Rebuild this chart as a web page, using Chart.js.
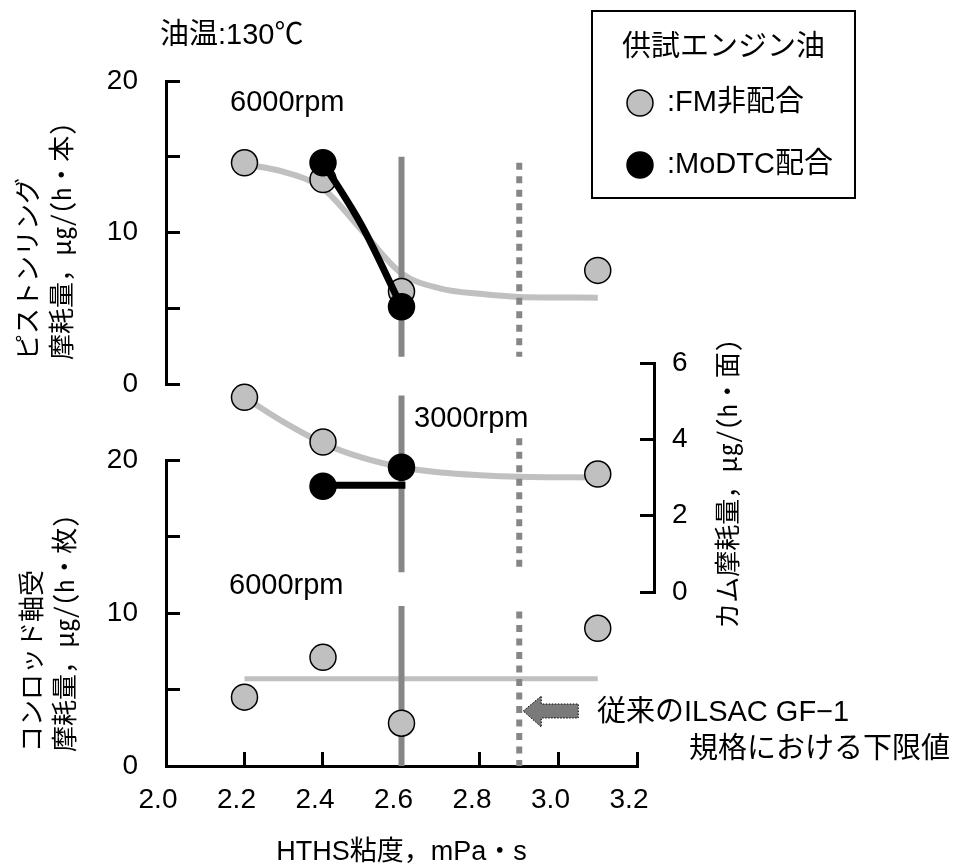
<!DOCTYPE html>
<html>
<head>
<meta charset="utf-8">
<title>HTHS粘度と摩耗量</title>
<script src="https://cdn.jsdelivr.net/npm/chart.js@4/dist/chart.umd.min.js"></script>
<style>
  html, body { margin: 0; padding: 0; background: #fff; }
  canvas { display: block; }
</style>
</head>
<body>
<canvas id="wear" width="968" height="866"></canvas>
<script>
// ---- axis ticks ----
const hthsTicks = [2.0, 2.2, 2.4, 2.6, 2.8, 3.0, 3.2];
const wearTicks = [0, 5, 10, 15, 20];
const camTicks = [0, 2, 4, 6];

// ---- piston ring wear, 6000rpm (µg/(h・本)) ----
const pistonFmX = [2.2, 2.4, 2.6, 3.1];
const pistonFmY = [14.6, 13.5, 6.1, 7.5];
const pistonMoX = [2.4, 2.6];
const pistonMoY = [14.6, 5.1];
const pistonFmTrendX = [2.2, 2.3, 2.4, 2.5, 2.6, 2.7, 2.8, 2.9, 3.1];
const pistonFmTrendY = [14.5, 14.0, 12.9, 10.1, 7.3, 6.3, 5.95, 5.75, 5.7];
const pistonMoTrendX = [2.4, 2.5, 2.6];
const pistonMoTrendY = [14.6, 10.4, 5.1];

// ---- cam wear, 3000rpm (µg/(h・面)) ----
const camFmX = [2.2, 2.4, 3.1];
const camFmY = [5.1, 3.93, 3.09];
const camMoX = [2.4, 2.6];
const camMoY = [2.77, 3.27];
const camFmTrendX = [2.2, 2.3, 2.4, 2.5, 2.6, 2.7, 2.8, 2.9, 3.1];
const camFmTrendY = [5.1, 4.45, 3.9, 3.52, 3.27, 3.13, 3.06, 3.02, 3.0];
const camMoLinkX = [2.4, 2.61];
const camMoLinkY = [2.8, 2.8];

// ---- connecting rod bearing wear, 6000rpm (µg/(h・枚)) ----
const rodFmX = [2.2, 2.4, 2.6, 3.1];
const rodFmY = [4.5, 7.1, 2.8, 9.0];
const rodFmMeanX = [2.2, 3.1];
const rodFmMeanY = [5.7, 5.7];

// ---- HTHS reference lines ----
const targetHths = 2.6;   // solid line
const gf1LimitHths = 2.9; // dotted line: ILSAC GF-1 lower limit

const FONT = "'Liberation Sans', 'Noto Sans CJK JP', sans-serif";
const MONO_FONT = "'Noto Sans Mono CJK JP', 'Noto Sans CJK JP', sans-serif";
const GRAY_FILL = '#c0c0c0';
const REF_GRAY = '#868686';

const pts = (xs, ys) => xs.map((x, i) => ({ x, y: ys[i] }));

function markers(axis, xs, ys, fill, order) {
  return {
    type: 'line', yAxisID: axis, data: pts(xs, ys), showLine: false,
    pointRadius: 13, pointHoverRadius: 13, pointBackgroundColor: fill,
    pointBorderColor: '#000', pointBorderWidth: 1.5, order
  };
}
function curve(axis, xs, ys, color, width, order) {
  return {
    type: 'line', yAxisID: axis, data: pts(xs, ys), borderColor: color,
    borderWidth: width, pointRadius: 0, cubicInterpolationMode: 'monotone',
    borderCapStyle: 'butt', fill: false, order
  };
}
function refLine(axis, x, yTop, yBottom, dashed) {
  return {
    type: 'line', yAxisID: axis, data: [{ x, y: yTop }, { x, y: yBottom }],
    borderColor: REF_GRAY, borderWidth: 6, borderDash: dashed ? [7, 6.5] : [],
    borderCapStyle: 'butt', pointRadius: 0, fill: false, order: 5, clip: false
  };
}

const datasets = [
  // reference lines in each panel
  refLine('yPiston', targetHths, 15, 1.8, false),
  refLine('yPiston', gf1LimitHths, 14.6, 1.8, true),
  refLine('yCam', targetHths, 5.15, 0.52, false),
  refLine('yCam', gf1LimitHths, 4.03, 0.52, true),
  refLine('yRod', targetHths, 10.45, 0, false),
  refLine('yRod', gf1LimitHths, 10.1, 0, true),
  // FM-free trend lines
  curve('yPiston', pistonFmTrendX, pistonFmTrendY, GRAY_FILL, 6, 6),
  curve('yCam', camFmTrendX, camFmTrendY, GRAY_FILL, 6, 6),
  curve('yRod', rodFmMeanX, rodFmMeanY, GRAY_FILL, 5, 6),
  // FM-free points
  markers('yPiston', pistonFmX, pistonFmY, GRAY_FILL, 3),
  markers('yCam', camFmX, camFmY, GRAY_FILL, 3),
  markers('yRod', rodFmX, rodFmY, GRAY_FILL, 3),
  // MoDTC lines and points
  curve('yPiston', pistonMoTrendX, pistonMoTrendY, '#000', 7, 2),
  curve('yCam', camMoLinkX, camMoLinkY, '#000', 7, 2),
  markers('yPiston', pistonMoX, pistonMoY, '#000', 1),
  markers('yCam', camMoX, camMoY, '#000', 1)
];

const tickFont = { family: FONT, size: 28 };
const axisGrid = { display: true, drawOnChartArea: false, drawTicks: true, tickLength: -14, lineWidth: 3, color: '#000' };
const axisBorder = { display: true, width: 3, color: '#000' };

function wearAxis(weight, stackWeight) {
  return {
    type: 'linear', position: 'left', stack: 'left', stackWeight, weight,
    min: 0, max: 20,
    afterBuildTicks: s => { s.ticks = wearTicks.map(v => ({ value: v })); },
    ticks: { font: tickFont, color: '#000', padding: 42, autoSkip: false,
             callback: v => (v % 10 === 0 ? String(v) : '') },
    grid: axisGrid, border: axisBorder,
    afterFit: s => { s.width = 166; }
  };
}
function spacerAxis(position, weight, width, stack, stackWeight) {
  const o = {
    type: 'linear', position, weight, display: true,
    ticks: { display: false }, grid: { display: false }, border: { display: false },
    afterFit: s => { s.width = width; }
  };
  if (stack) { o.stack = stack; o.stackWeight = stackWeight; }
  return o;
}

// texts, legend box and arrow
const annotations = {
  id: 'annotations',
  afterDraw(chart) {
    const { ctx } = chart;
    const xs = chart.scales.x;
    ctx.save();
    ctx.fillStyle = '#000';
    ctx.textBaseline = 'middle';
    ctx.textAlign = 'left';

    ctx.font = `29px ${FONT}`;
    ctx.fillText('油温:130℃', 160, 36);
    ctx.fillText('6000rpm', 230, 103);
    ctx.fillText('3000rpm', 414, 419);
    ctx.fillText('6000rpm', 229, 586);

    // legend
    ctx.lineWidth = 2;
    ctx.strokeStyle = '#000';
    ctx.strokeRect(592, 11, 263, 187);
    ctx.fillText('供試エンジン油', 622, 48);
    const dot = (x, y, fill) => {
      ctx.beginPath();
      ctx.arc(x, y, 13, 0, Math.PI * 2);
      ctx.fillStyle = fill; ctx.fill();
      ctx.lineWidth = 1.5; ctx.strokeStyle = '#000'; ctx.stroke();
      ctx.fillStyle = '#000';
    };
    dot(640, 103, GRAY_FILL);
    ctx.fillText(':FM非配合', 667, 103);
    dot(640, 165, '#000');
    ctx.fillText(':MoDTC配合', 667, 165);

    // arrow pointing at the GF-1 limit line
    const tip = xs.getPixelForValue(gf1LimitHths) + 4;
    ctx.beginPath();
    ctx.moveTo(tip, 711);
    ctx.lineTo(tip + 18, 696);
    ctx.lineTo(tip + 18, 704);
    ctx.lineTo(tip + 55, 704);
    ctx.lineTo(tip + 55, 718);
    ctx.lineTo(tip + 18, 718);
    ctx.lineTo(tip + 18, 727);
    ctx.closePath();
    ctx.fillStyle = '#7a7a7a';
    ctx.fill();
    ctx.setLineDash([1.5, 1.5]);
    ctx.lineWidth = 1;
    ctx.strokeStyle = '#000';
    ctx.stroke();
    ctx.setLineDash([]);
    ctx.fillStyle = '#000';
    ctx.fillText('従来のILSAC GF−1', 597, 713);
    ctx.fillText('規格における下限値', 689, 750);

    // vertical axis titles
    const vtext = (text, x, y, align) => {
      ctx.save();
      ctx.translate(x, y);
      ctx.rotate(-Math.PI / 2);
      ctx.textAlign = align;
      ctx.fillText(text, 0, 0);
      ctx.restore();
    };
    ctx.font = `26px ${MONO_FONT}`;
    vtext('ピストンリング', 27, 360, 'left');
    vtext('摩耗量，μg/(h・本)', 61, 360, 'left');
    vtext('コンロッド軸受', 31, 752, 'left');
    vtext('摩耗量，μg/(h・枚)', 64, 752, 'left');
    vtext('カム摩耗量，μg/(h・面)', 727, 484, 'center');
    ctx.restore();
  }
};

new Chart(document.getElementById('wear'), {
  type: 'line',
  data: { datasets },
  options: {
    responsive: false,
    animation: false,
    events: [],
    layout: { padding: { top: 81, right: 0, bottom: 0, left: 0 } },
    plugins: { legend: { display: false }, tooltip: { enabled: false } },
    scales: {
      x: {
        type: 'linear', position: 'bottom', min: 2.0, max: 3.2,
        afterBuildTicks: s => { s.ticks = hthsTicks.map(v => ({ value: v })); },
        ticks: { font: tickFont, color: '#000', padding: 31, labelOffset: -8,
                 maxRotation: 0, autoSkip: false, callback: v => Number(v).toFixed(1) },
        grid: axisGrid, border: axisBorder,
        title: { display: true, text: 'HTHS粘度，mPa・s', color: '#000',
                 font: { family: FONT, size: 27, lineHeight: 1 }, padding: { top: 0, bottom: 0 } },
        afterFit: s => { s.height = 100; }
      },
      // left column: piston ring (top), gap, connecting rod bearing (bottom)
      yRod: wearAxis(0, 306),
      yGapLeft: spacerAxis('left', 1, 0, 'left', 76),
      yPiston: wearAxis(2, 303),
      // right column: spacer, then cam axis between two empty slots
      ySpacer: spacerAxis('right', 0, 17),
      yCamTop: spacerAxis('right', 1, 0, 'right', 282),
      yCam: {
        type: 'linear', position: 'right', stack: 'right', stackWeight: 229, weight: 2,
        min: 0, max: 6,
        afterBuildTicks: s => { s.ticks = camTicks.map(v => ({ value: v })); },
        ticks: { font: tickFont, color: '#000', padding: 32, autoSkip: false },
        grid: axisGrid, border: axisBorder,
        afterFit: s => { s.width = 314; }
      },
      yCamBottom: spacerAxis('right', 3, 0, 'right', 174)
    }
  },
  plugins: [annotations]
});
</script>
</body>
</html>
